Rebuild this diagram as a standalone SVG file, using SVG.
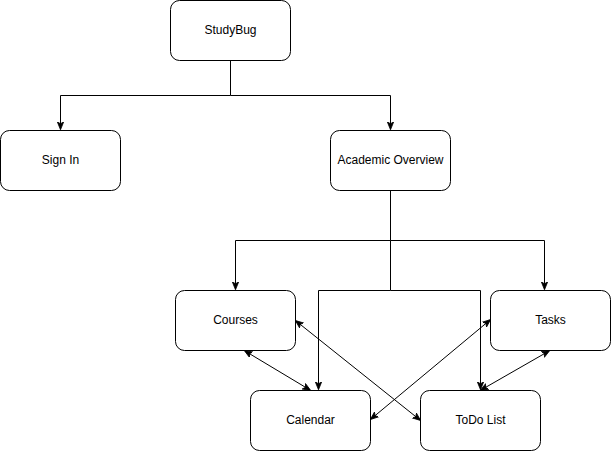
<svg xmlns="http://www.w3.org/2000/svg" width="611" height="451" viewBox="0 0 611 451">
  <style>
    .box { fill: #ffffff; stroke: #000000; stroke-width: 1; }
    .label { font-family: "Liberation Sans", Arial, Helvetica, sans-serif; font-size: 12px; fill: #000000; text-anchor: middle; dominant-baseline: central; }
    .edge { fill: none; stroke: #000000; stroke-width: 1; }
  </style>
  <defs>
    <marker id="arrow" viewBox="0 0 10 10" refX="9" refY="5" markerWidth="8" markerHeight="8" markerUnits="userSpaceOnUse" orient="auto-start-reverse">
      <path d="M0,1 L10,5 L0,9 L2.5,5 Z" fill="#000000" stroke="#000000" stroke-width="1"/>
    </marker>
  </defs>
  <rect width="611" height="451" fill="#ffffff"/>

  <g id="connectors">
    <!-- StudyBug to Sign In / Academic Overview -->
    <path class="edge" d="M230.5,60.5 V95.5 H60.5 V129" marker-end="url(#arrow)"/>
    <path class="edge" d="M230.5,95.5 H390.5 V129" marker-end="url(#arrow)"/>
    <!-- Academic Overview to Courses / Tasks -->
    <path class="edge" d="M390.5,190.5 V240.5 H235.5 V289" marker-end="url(#arrow)"/>
    <path class="edge" d="M390.5,240.5 H544.5 V289" marker-end="url(#arrow)"/>
    <!-- Academic Overview to Calendar / ToDo List -->
    <path class="edge" d="M390.5,240.5 V290.5 H318.5 V389" marker-end="url(#arrow)"/>
    <path class="edge" d="M390.5,290.5 H480.5 V389" marker-end="url(#arrow)"/>
    <!-- cross links -->
    <path class="edge" d="M245,351 L310,390" marker-start="url(#arrow)" marker-end="url(#arrow)"/>
    <path class="edge" d="M296,321 L420,420" marker-start="url(#arrow)" marker-end="url(#arrow)"/>
    <path class="edge" d="M490,320 L371,419" marker-start="url(#arrow)" marker-end="url(#arrow)"/>
    <path class="edge" d="M549,351 L481,390" marker-start="url(#arrow)" marker-end="url(#arrow)"/>
  </g>

  <g id="studybug">
    <rect class="box" x="170.5" y="0.5" width="120" height="60" rx="9"/>
    <text class="label" x="230.5" y="29.5">StudyBug</text>
  </g>
  <g id="sign-in">
    <rect class="box" x="0.5" y="130.5" width="120" height="60" rx="9"/>
    <text class="label" x="60.5" y="159.5">Sign In</text>
  </g>
  <g id="academic-overview">
    <rect class="box" x="330.5" y="130.5" width="120" height="60" rx="9"/>
    <text class="label" x="390.5" y="159.5">Academic Overview</text>
  </g>
  <g id="courses">
    <rect class="box" x="175.5" y="290.5" width="120" height="60" rx="9"/>
    <text class="label" x="235.5" y="319.5">Courses</text>
  </g>
  <g id="tasks">
    <rect class="box" x="490.5" y="290.5" width="120" height="60" rx="9"/>
    <text class="label" x="550.5" y="319.5">Tasks</text>
  </g>
  <g id="calendar">
    <rect class="box" x="250.5" y="390.5" width="120" height="60" rx="9"/>
    <text class="label" x="310.5" y="419.5">Calendar</text>
  </g>
  <g id="todo-list">
    <rect class="box" x="420.5" y="390.5" width="120" height="60" rx="9"/>
    <text class="label" x="480.5" y="419.5">ToDo List</text>
  </g>
</svg>
